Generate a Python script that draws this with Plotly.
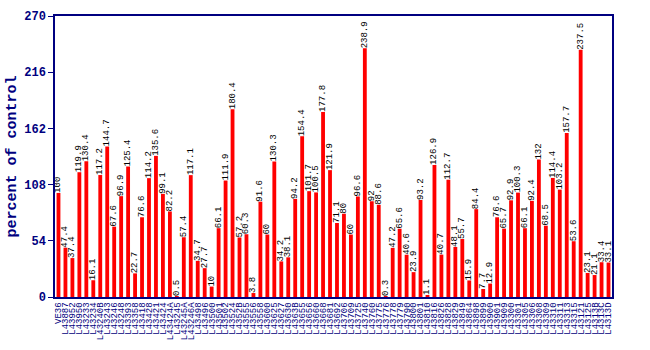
import plotly.graph_objects as go

labels = ["VE36", "L43887", "L43952", "L43950", "L43233", "L43234", "L43240B", "L43243",
          "L43246", "L43248", "L43393", "L43358", "L43418", "L43428", "L43421", "L43424",
          "L43424A", "L43245", "L43245A", "L43246A", "L43498", "L43496", "L43500", "L43501",
          "L43502", "L43524", "L4352B", "L43555", "L43556", "L43558", "L43600", "L43625",
          "L43627", "L43630", "L4363B", "L43655", "L43656", "L43660", "L43668", "L43681",
          "L43692", "L43706", "L43709", "L43725", "L43740", "L43760", "L43775", "L43776",
          "L43778", "L43779", "L43790", "L43800", "L43801", "L43810", "L43816", "L43826",
          "L43828", "L43829", "L43849", "L43864", "L43898", "L43899", "L43900", "L43901",
          "L43909", "L43300", "L43301", "L43305", "L43306", "L43308", "L43309", "L43310",
          "L43311", "L43313", "L43315", "L43121", "L43125", "L4313B", "L4313C", "L4313D"]

values = [100, 47.4, 37.4, 119.9, 130.4, 16.1, 117.2, 144.7, 67.6, 96.9, 125.4, 22.7,
          76.6, 114.2, 135.6, 99.1, 82.2, 0.5, 57.4, 117.1, 34.7, 27.7,
          10, 66.1, 111.9, 180.4, 57.2, 60.3, 3.8, 91.6, 60, 130.3, 34.2, 38.1, 94.2,
          154.4, 101.7, 100.5, 177.8, 121.9, 71.1, 80, 60,
          96.6, 238.9, 92, 88.6, 0.3, 47.2, 65.6, 40.6, 23.9, 93.2, 1.1, 126.9, 40.7,
          112.7, 48.1, 55.7, 15.9, 84.4, 7.7, 12.9, 76.6,
          65.7, 92.9, 100.3, 66.1, 92.4, 132, 68.5, 114.4, 103.2, 157.7, 53.6, 237.5,
          23.1, 21.1, 33.4, 33.1]

yticks = [0, 54, 108, 162, 216, 270]

idx = list(range(len(values)))
navy = "#000080"
mono = "Liberation Mono, DejaVu Sans Mono, monospace"

fig = go.Figure(go.Bar(
    x=idx, y=values, width=0.55,
    marker=dict(color="#ff0000", line=dict(width=0)),
    text=[f"{v:g}" for v in values],
    textposition="outside", textangle=-90, constraintext="none",
    textfont=dict(family=mono, size=9, color="black"),
    cliponaxis=False,
))

fig.update_layout(
    width=650, height=350,
    margin=dict(l=45, r=38, t=10, b=52),
    plot_bgcolor="white", paper_bgcolor="white",
    showlegend=False, bargap=0.45,
)
fig.update_xaxes(
    range=[-0.5, len(values) - 0.5],
    tickmode="array", tickvals=idx, ticktext=labels, tickangle=-90,
    tickfont=dict(family=mono, size=9, color=navy),
    showline=True, linecolor=navy, linewidth=1.5, mirror=True,
    showgrid=False, ticks="", zeroline=False,
)
fig.update_yaxes(
    range=[0, 270], tickmode="array", tickvals=yticks,
    ticktext=[f"<b>{t}</b>" for t in yticks],
    tickfont=dict(family=mono, size=12, color=navy),
    title=dict(text="<b>percent of control</b>",
               font=dict(family=mono, size=15, color=navy),
               standoff=4),
    showline=True, linecolor=navy, linewidth=1.5, mirror=True,
    showgrid=False, ticks="outside", ticklen=5, tickcolor=navy, zeroline=False,
)

fig.write_html("out.html")
